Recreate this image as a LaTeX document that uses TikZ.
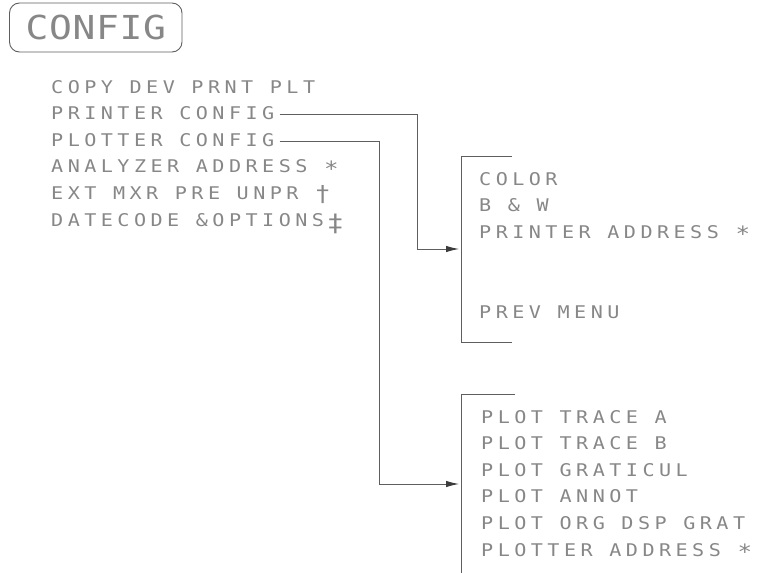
\documentclass[tikz,border=0pt]{standalone}
\usepackage{fontspec}
\usetikzlibrary{arrows.meta}
\newfontfamily\hpfont[FakeStretch=1.15,LetterSpace=25.5]{DejaVu Sans Mono}
\newfontfamily\hptitle[FakeStretch=1.15,LetterSpace=2]{DejaVu Sans Mono}
\definecolor{txtgray}{HTML}{878787}
\definecolor{linegray}{HTML}{5E5E5E}
\definecolor{arrgray}{HTML}{3C3C3C}
\newcommand{\hpstar}{\raisebox{-3.5pt}{\fontsize{21}{22}\selectfont *}}
\newcommand{\hpdag}{\raisebox{-2.5pt}{\fontsize{22}{22}\selectfont †}}
\newcommand{\hpddag}{\hspace{3pt}\raisebox{-5pt}{\fontsize{24}{24}\selectfont ‡}}
\tikzset{
  menutext/.style={anchor=base west, inner sep=0pt, text=txtgray,
    font=\hpfont\fontsize{17.5}{20}\selectfont},
  conn/.style={draw=linegray, line width=0.9pt},
  arr/.style={conn, -{Latex[length=13pt,width=6.5pt,fill=arrgray,color=arrgray]}},
  titlebox/.style={draw=linegray, line width=0.9pt, rounded corners=10pt,
    minimum width=172.5pt, minimum height=49pt, inner sep=0pt, text=txtgray,
    font=\hptitle\fontsize{33}{36}\selectfont}
}
\begin{document}
\begin{tikzpicture}[x=1pt,y=-1pt]
\useasboundingbox (0,0) rectangle (764,573);
% title
\node[titlebox] (cfg) at (95.75,27.5) {CONFIG};
% left menu
\node[menutext] (l1) at (51,93)    {COPY DEV PRNT PLT};
\node[menutext] (l2) at (51,119.6) {PRINTER CONFIG};
\node[menutext] (l3) at (51,146.2) {PLOTTER CONFIG};
\node[menutext] (l4) at (51,172.8) {ANALYZER ADDRESS \hpstar};
\node[menutext] (l5) at (51,199.4) {EXT MXR PRE UNPR \hpdag};
\node[menutext] (l6) at (51,226)   {DATECODE \&OPTIONS\hpddag};
% printer menu
\node[menutext] (p1) at (479,185)   {COLOR};
\node[menutext] (p2) at (479,211.6) {B \& W};
\node[menutext] (p3) at (479,238.2) {PRINTER ADDRESS \hpstar};
\node[menutext] (p6) at (479,318)   {PREV MENU};
% plotter menu
\node[menutext] (q1) at (481,423)   {PLOT TRACE A};
\node[menutext] (q2) at (481,449.6) {PLOT TRACE B};
\node[menutext] (q3) at (481,476.2) {PLOT GRATICUL};
\node[menutext] (q4) at (481,502.8) {PLOT ANNOT};
\node[menutext] (q5) at (481,529.4) {PLOT ORG DSP GRAT};
\node[menutext] (q6) at (481,556)   {PLOTTER ADDRESS \hpstar};
% brackets
\draw[conn] (512,156) -- (461,156) -- (461,342) -- (512,342);
\draw[conn] (515,394) -- (461,394) -- (461,573);
% connector targets and turning columns
\coordinate (m1in) at (459,249);
\coordinate (m2in) at (459,484);
\coordinate (t1) at (417,0);
\coordinate (t2) at (379,0);
\draw[arr] ([xshift=5pt,yshift=-1.5pt]l2.east) -| (t1 |- m1in) -- (m1in);
\draw[arr] ([xshift=5pt,yshift=-1.5pt]l3.east) -| (t2 |- m2in) -- (m2in);
\end{tikzpicture}
\end{document}
